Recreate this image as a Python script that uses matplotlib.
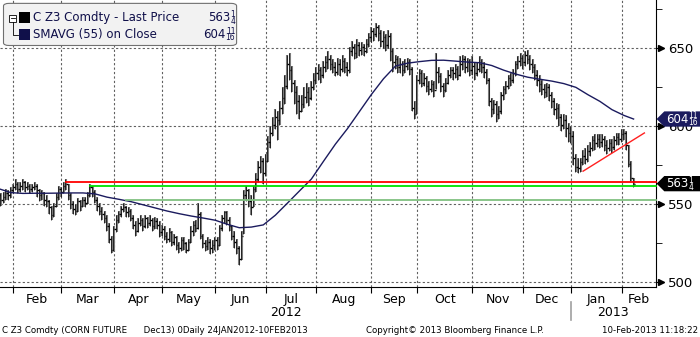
import numpy as np
import pandas as pd
import matplotlib
matplotlib.use("Agg")
import matplotlib.pyplot as plt
import matplotlib.transforms as mtransforms
from matplotlib.patches import FancyBboxPatch, Polygon, Rectangle

# ======================================
# Données (C Z3 Comdty, barres journalières)
# ======================================
feries = ["2012-02-20", "2012-04-06", "2012-05-28", "2012-07-04", "2012-09-03",
          "2012-11-22", "2012-12-25", "2013-01-01", "2013-01-21"]
dates = pd.bdate_range("2012-01-24", "2013-02-08", freq="C", holidays=feries)

cloture = [556, 553, 555, 557, 556, 559, 561, 563, 560, 562,
           564, 561, 562, 560, 561, 562, 559, 556, 557, 553,
           552, 548, 543, 549, 555, 560, 558, 562, 563, 556,
           550, 547, 546, 552, 549, 553, 551, 556, 561, 558,
           553, 549, 546, 544, 541, 536, 528, 521, 534, 540,
           544, 547, 548, 545, 546, 541, 537, 533, 538, 540,
           536, 541, 538, 540, 536, 539, 537, 532, 534, 530,
           528, 532, 526, 529, 524, 522, 527, 525, 521, 526,
           533, 537, 535, 544, 530, 525, 523, 526, 522, 524,
           527, 524, 535, 541, 545, 540, 536, 530, 526, 522,
           515, 530, 556, 559, 552, 548, 560, 566, 574, 578,
           570, 578, 590, 596, 601, 606, 604, 612, 618, 626,
           640, 636, 628, 622, 616, 610, 614, 619, 622, 618,
           625, 630, 634, 636, 633, 638, 641, 643, 640, 638,
           635, 640, 637, 642, 638, 636, 648, 651, 647, 652,
           649, 651, 648, 653, 657, 661, 659, 664, 660, 655,
           657, 652, 658, 648, 641, 643, 638, 640, 636, 639,
           641, 637, 612, 608, 630, 634, 628, 631, 626, 624,
           627, 623, 635, 632, 626, 623, 628, 633, 636, 634,
           637, 633, 640, 643, 638, 641, 636, 639, 634, 637,
           640, 638, 635, 630, 616, 611, 614, 608, 610, 620,
           624, 626, 631, 630, 634, 640, 642, 644, 641, 646,
           643, 640, 638, 633, 630, 627, 624, 622, 625, 620,
           616, 611, 612, 606, 601, 604, 599, 596, 594, 580,
           574, 573, 577, 581, 579, 584, 586, 591, 589, 592,
           590, 592, 588, 586, 589, 587, 591, 593, 592, 595,
           596, 588, 576, 567, 563.25]

haut = [559, 557, 558, 560, 559, 561, 563, 566, 564, 564,
        566, 565, 564, 563, 563, 564, 563, 560, 559, 558,
        556, 553, 549, 551, 557, 562, 561, 564, 566, 563,
        557, 552, 550, 554, 553, 555, 555, 558, 563, 562,
        559, 555, 551, 548, 546, 543, 538, 530, 536, 543,
        546, 549, 551, 549, 548, 547, 543, 539, 541, 543,
        541, 543, 542, 543, 541, 542, 541, 539, 537, 536,
        532, 535, 533, 531, 530, 526, 529, 529, 526, 528,
        536, 539, 540, 551, 545, 531, 527, 529, 528, 527,
        529, 529, 537, 543, 546, 546, 542, 537, 533, 528,
        523, 533, 559, 562, 560, 556, 562, 570, 578, 581,
        580, 582, 594, 600, 606, 611, 610, 616, 625, 633,
        646, 647, 639, 630, 626, 620, 620, 625, 628, 625,
        629, 634, 638, 640, 638, 642, 645, 648, 646, 643,
        641, 644, 643, 646, 644, 641, 651, 655, 653, 656,
        654, 654, 653, 656, 660, 664, 663, 666, 665, 662,
        661, 659, 662, 660, 650, 646, 645, 644, 642, 643,
        644, 643, 638, 616, 633, 637, 636, 634, 632, 629,
        630, 629, 647, 638, 634, 628, 631, 636, 638, 638,
        640, 639, 645, 646, 645, 644, 643, 645, 641, 641,
        645, 643, 641, 637, 631, 618, 617, 616, 613, 622,
        626, 629, 633, 634, 637, 642, 645, 647, 646, 648,
        649, 646, 643, 640, 636, 633, 630, 627, 628, 627,
        622, 618, 615, 614, 608, 608, 607, 602, 600, 597,
        582, 580, 580, 585, 586, 588, 590, 594, 595, 595,
        595, 595, 594, 591, 592, 592, 594, 596, 596, 598,
        598, 597, 588, 578, 567]

bas = [551, 549, 551, 553, 553, 554, 557, 559, 557, 558,
       559, 558, 559, 557, 558, 559, 555, 552, 553, 549,
       548, 544, 540, 542, 548, 553, 555, 557, 559, 553,
       547, 544, 543, 545, 546, 548, 548, 550, 555, 555,
       551, 546, 543, 540, 538, 533, 525, 519, 520, 532,
       538, 542, 545, 542, 542, 539, 534, 530, 532, 536,
       533, 535, 535, 536, 533, 534, 534, 529, 530, 527,
       525, 526, 523, 524, 521, 519, 520, 521, 519, 520,
       525, 530, 532, 534, 528, 522, 520, 521, 518, 519,
       521, 521, 523, 533, 538, 537, 533, 527, 522, 518,
       511, 514, 531, 552, 548, 543, 548, 558, 564, 570,
       563, 568, 577, 586, 594, 598, 591, 601, 608, 614,
       624, 630, 622, 614, 608, 605, 609, 612, 615, 613,
       617, 623, 627, 630, 628, 631, 635, 637, 636, 634,
       632, 633, 632, 635, 634, 632, 634, 645, 643, 644,
       645, 646, 645, 647, 651, 654, 655, 657, 655, 651,
       650, 648, 650, 642, 635, 637, 634, 634, 632, 634,
       636, 633, 610, 605, 608, 627, 625, 626, 622, 620,
       622, 619, 624, 628, 622, 619, 622, 627, 631, 630,
       631, 630, 632, 636, 634, 635, 632, 633, 630, 632,
       635, 634, 631, 627, 613, 606, 608, 603, 605, 608,
       617, 621, 624, 626, 628, 632, 637, 639, 637, 639,
       640, 636, 634, 630, 626, 622, 620, 618, 619, 616,
       612, 607, 605, 600, 597, 598, 593, 590, 589, 575,
       571, 570, 571, 575, 576, 577, 581, 584, 585, 587,
       586, 587, 584, 582, 584, 583, 585, 588, 588, 590,
       591, 585, 574, 565, 561]

# moyenne mobile 55 jours, relevée tous les 5 jours de bourse
sma_jours = list(range(0, 261, 5)) + [264]
sma_val = [560, 557.5, 557, 557.1, 557.1, 557.2, 557.3, 557.3, 556.7, 554.6,
           553.2, 551.7, 549.7, 547.7, 545.7, 544, 542.5, 541.2, 539.8, 537.2,
           535, 535.4, 536.8, 543, 550.7, 558.5, 566.2, 577.5, 588.6, 598.5,
           609.5, 620.5, 630.5, 638.7, 640.5, 641.5, 642.3, 642.4, 641.8, 641.2,
           640.8, 639, 636, 633.5, 631.5, 630.2, 629, 627.4, 625, 620.3,
           616, 610.7, 607, 604.69]

# valeurs affichées (entier, numérateur, dénominateur)
dernier_prix = ("563", "1", "4")
dernier_sma = ("604", "11", "16")

# lignes horizontales (niveau, date de départ, couleur)
niveaux = [564.25, 561.75, 552.5]
niveaux_debut = ["2012-03-05", "2012-03-19", "2012-04-10"]
niveaux_couleur = ["#ff0000", "#00e000", "#80c080"]

# droite de tendance rouge (jours de bourse, prix)
tendance_x = [243, 268.5]
tendance_y = [571.25, 595.75]

mois = ["Feb", "Mar", "Apr", "May", "Jun", "Jul", "Aug", "Sep", "Oct", "Nov",
        "Dec", "Jan", "Feb"]


def ecrire_fraction(parent, x0, y0, trans, val, fs, fsf, couleur, droite=False, z=11):
    entier, num, den = val
    w_ent = 0.62 * fs * len(entier)
    w_frac = 0.62 * fsf * max(len(num), len(den))
    if droite:
        x_ent, x_frac = -w_frac - 0.4, -w_frac / 2
        ha = "right"
    else:
        x_ent, x_frac = 0, w_ent + 0.4 + w_frac / 2
        ha = "left"

    def decale(dx, dy):
        return trans + mtransforms.ScaledTranslation(dx / 72, dy / 72, fig.dpi_scale_trans)

    parent.text(x0, y0, entier, transform=decale(x_ent, 0), ha=ha, va="center",
                fontsize=fs, color=couleur, zorder=z, clip_on=False)
    parent.text(x0, y0, num, transform=decale(x_frac, 2.3), ha="center", va="center",
                fontsize=fsf, color=couleur, zorder=z, clip_on=False)
    parent.text(x0, y0, den, transform=decale(x_frac, -2.6), ha="center", va="center",
                fontsize=fsf, color=couleur, zorder=z, clip_on=False)


# ======================================
# Figure
# ======================================
fig = plt.figure(figsize=(7, 3.37), dpi=100)
ax = fig.add_axes([0, 0.1475, 0.9367, 0.8525])

x = np.arange(len(cloture))
ax.vlines(x, bas, haut, color="#7a7a7a", lw=1.5, zorder=3)
ax.vlines(x - 0.3, bas, haut, color="black", lw=0.5, zorder=3)
ax.hlines(cloture, x, x + 0.7, color="black", lw=1.0, zorder=3)

ax.plot(sma_jours, sma_val, color="#1b1b5e", lw=1.0, zorder=4)

xmax = 273.2
for niv, deb, coul in zip(niveaux, niveaux_debut, niveaux_couleur):
    i0 = dates.get_loc(pd.Timestamp(deb))
    ax.plot([i0, xmax], [niv, niv], color=coul, lw=1.3, zorder=5, clip_on=False)

ax.plot(tendance_x, tendance_y, color="#ff2020", lw=1.0, zorder=5)

# débuts de mois
debuts = [0]
for i in range(1, len(dates)):
    if dates[i].month != dates[i - 1].month:
        debuts.append(i)
debuts = debuts[1:]
milieux = [(a + b) / 2 for a, b in zip(debuts, debuts[1:] + [xmax])]

ax.set_xlim(0.5, xmax)
ax.set_ylim(496.8, 681)
ax.set_xticks(debuts)
ax.set_xticklabels([])
ax.set_xticks(milieux, minor=True)
ax.set_xticklabels(mois, minor=True, fontsize=9)
ax.tick_params(axis="x", which="major", direction="out", length=4, color="black")
ax.tick_params(axis="x", which="minor", length=0, pad=4)

ax.yaxis.tick_right()
ax.set_yticks([500, 550, 600, 650])
ax.set_yticks([525, 575, 625, 675], minor=True)
ax.tick_params(axis="y", which="major", length=6, pad=3, labelsize=9.5)
ax.tick_params(axis="y", which="minor", length=4)
ax.grid(True, which="major", color="#606060", linestyle=(0, (2, 2)), lw=0.8)

for s in ["left", "top"]:
    ax.spines[s].set_visible(False)

# flèches des graduations de droite
trans_y = mtransforms.blended_transform_factory(ax.transAxes, ax.transData)
ax.plot([1.008] * 4, [500, 550, 600, 650], ">", color="black", ms=4,
        transform=trans_y, clip_on=False, zorder=6)

# étiquettes de valeur à droite
trans_fy = mtransforms.blended_transform_factory(fig.transFigure, ax.transData)
for val, txt, fc in [(sma_val[-1], dernier_sma, "#1b1b5e"),
                     (cloture[-1], dernier_prix, "black")]:
    h = 4.9
    poly = Polygon([(0.938, val), (0.949, val + h), (1.0, val + h),
                    (1.0, val - h), (0.949, val - h)], closed=True,
                   transform=trans_fy, fc=fc, ec="none", clip_on=False, zorder=10)
    ax.add_patch(poly)
    ecrire_fraction(ax, 0.951, val, trans_fy, txt, 8.5, 5.5, "white")

# années
trans_xa = mtransforms.blended_transform_factory(ax.transData, ax.transAxes)
jan13 = debuts[11]
ax.text((0.5 + jan13) / 2, -0.088, "2012", transform=trans_xa,
        ha="center", va="center", fontsize=9)
ax.text((jan13 + xmax) / 2, -0.088, "2013", transform=trans_xa,
        ha="center", va="center", fontsize=9)
ax.plot([jan13, jan13], [-0.052, -0.115], color="#a0a0a0", lw=1.2, clip_on=False,
        transform=trans_xa)

# légende façon Bloomberg
boite = FancyBboxPatch((0.005, 0.865), 0.333, 0.125, boxstyle="round,pad=0,rounding_size=0.008",
                       transform=fig.transFigure, fc="#f2f2f2", ec="#707070", lw=0.8, zorder=20)
fig.patches.append(boite)
fig.add_artist(Rectangle((0.0135, 0.935), 0.010, 0.021, transform=fig.transFigure,
                         fc="white", ec="black", lw=0.6, zorder=21))
fig.add_artist(plt.Line2D([0.016, 0.021], [0.9455, 0.9455], transform=fig.transFigure,
                          color="black", lw=0.6, zorder=22))
fig.add_artist(plt.Line2D([0.0185, 0.0185, 0.026], [0.935, 0.897, 0.897], transform=fig.transFigure,
                          color="black", lw=0.6, zorder=21))
fig.add_artist(Rectangle((0.027, 0.932), 0.016, 0.032, transform=fig.transFigure,
                         fc="black", ec="none", zorder=21))
fig.add_artist(Rectangle((0.027, 0.882), 0.016, 0.032, transform=fig.transFigure,
                         fc="#10104a", ec="none", zorder=21))
fig.text(0.047, 0.948, "C Z3 Comdty - Last Price", fontsize=8.5, va="center", color="#10104a", zorder=22)
fig.text(0.047, 0.898, "SMAVG (55) on Close", fontsize=8.5, va="center", color="#10104a", zorder=22)
ecrire_fraction(fig, 0.336, 0.948, fig.transFigure, dernier_prix, 8.5, 5.5, "#10104a", droite=True, z=22)
ecrire_fraction(fig, 0.336, 0.898, fig.transFigure, dernier_sma, 8.5, 5.5, "#10104a", droite=True, z=22)

# pied de page
fig.text(0.003, 0.02, "C Z3 Comdty (CORN FUTURE      Dec13) 0Daily 24JAN2012-10FEB2013",
         fontsize=6.2, va="center")
fig.text(0.523, 0.02, "Copyright© 2013 Bloomberg Finance L.P.", fontsize=6.2, va="center")
fig.text(0.997, 0.02, "10-Feb-2013 11:18:22", fontsize=6.2, va="center", ha="right")

fig.savefig("out.png", dpi=100)
